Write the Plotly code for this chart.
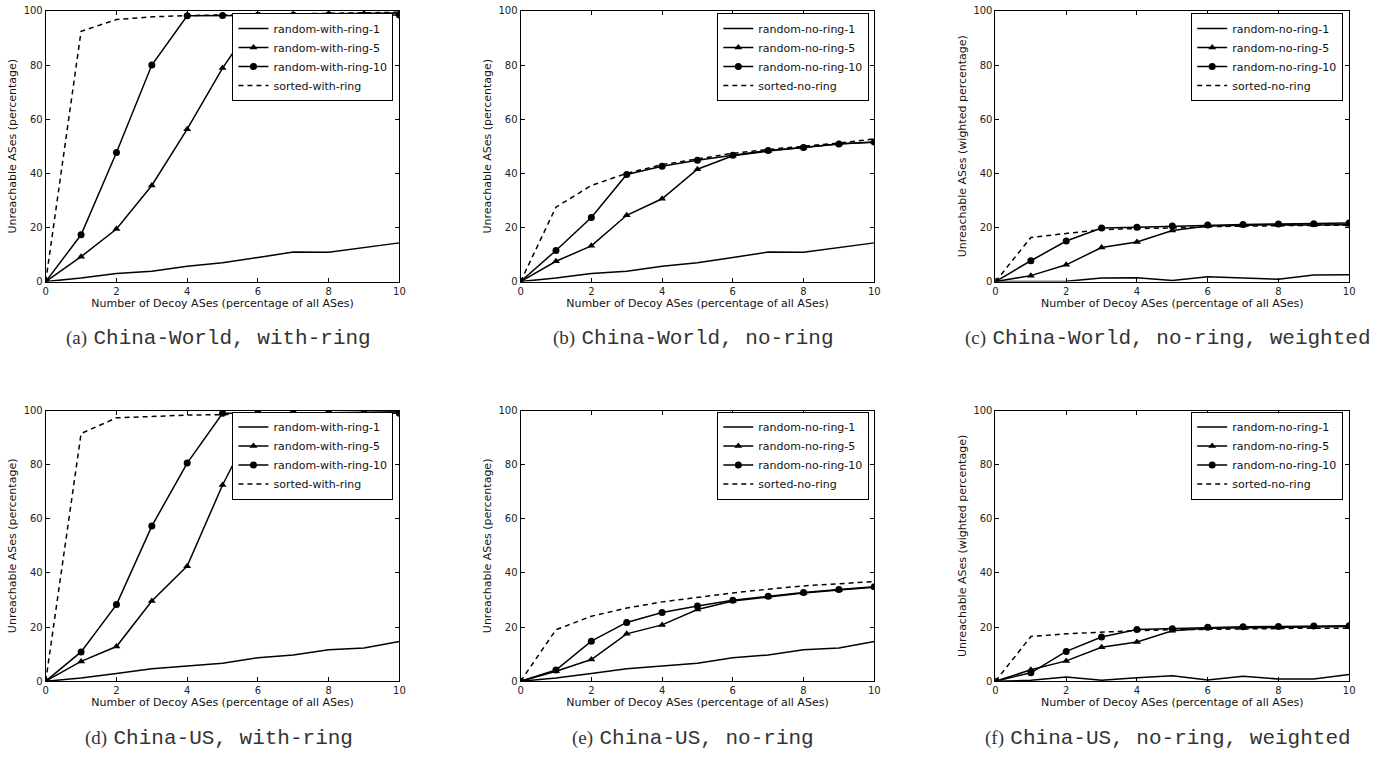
import plotly.graph_objects as go

x_vals = [0, 1, 2, 3, 4, 5, 6, 7, 8, 9, 10]

# (a) China-World, with-ring
a_r1 = [0, 1.3, 3.0, 3.8, 5.7, 7.0, 8.9, 10.9, 10.8, 12.6, 14.3]
a_r5 = [0, 9.2, 19.4, 35.5, 56.3, 78.9, 98.0, 98.8, 99.0, 99.0, 99.2]
a_r10 = [0, 17.3, 47.7, 80.0, 98.2, 98.3, 98.4, 98.4, 98.5, 98.5, 98.5]
a_sorted = [0, 92.5, 96.8, 97.8, 98.3, 98.5, 98.8, 99.0, 99.2, 99.3, 99.5]

# (b) China-World, no-ring
b_r1 = [0, 1.3, 3.0, 3.8, 5.7, 7.0, 8.9, 10.9, 10.8, 12.6, 14.3]
b_r5 = [0, 7.5, 13.2, 24.5, 30.6, 41.5, 46.5, 48.2, 49.5, 50.9, 51.5]
b_r10 = [0, 11.5, 23.7, 39.6, 42.6, 44.8, 46.7, 48.4, 49.5, 50.8, 51.6]
b_sorted = [0, 27.5, 35.5, 40.0, 43.2, 45.4, 47.4, 48.8, 50.0, 51.2, 52.7]

# (c) China-World, no-ring, weighted
c_r1 = [0, 0.1, 0.1, 1.3, 1.4, 0.4, 1.8, 1.3, 0.9, 2.4, 2.5]
c_r5 = [0, 2.2, 6.2, 12.6, 14.6, 18.9, 20.5, 20.7, 21.0, 20.9, 21.0]
c_r10 = [0, 7.7, 15.0, 19.8, 20.1, 20.5, 20.9, 21.1, 21.3, 21.4, 21.6]
c_sorted = [0, 16.3, 17.8, 19.2, 19.6, 19.8, 20.3, 20.5, 20.7, 20.8, 20.8]

# (d) China-US, with-ring
d_r1 = [0, 1.2, 2.8, 4.6, 5.6, 6.6, 8.7, 9.7, 11.6, 12.3, 14.7]
d_r5 = [0, 7.3, 12.8, 29.6, 42.5, 72.5, 98.0, 99.0, 99.2, 99.3, 99.5]
d_r10 = [0, 10.8, 28.3, 57.3, 80.6, 99.0, 99.0, 99.0, 99.0, 99.0, 99.0]
d_sorted = [0, 91.5, 97.3, 97.8, 98.3, 98.5, 98.7, 98.8, 98.9, 99.0, 99.0]

# (e) China-US, no-ring
e_r1 = [0, 1.2, 2.8, 4.6, 5.6, 6.6, 8.7, 9.7, 11.6, 12.3, 14.7]
e_r5 = [0, 3.7, 8.0, 17.5, 20.8, 26.5, 29.6, 31.2, 32.6, 33.7, 34.7]
e_r10 = [0, 4.1, 14.8, 21.7, 25.4, 27.8, 29.9, 31.4, 32.8, 33.9, 34.9]
e_sorted = [0, 19.0, 24.0, 27.0, 29.3, 31.0, 32.6, 34.0, 35.2, 36.0, 36.8]

# (f) China-US, no-ring, weighted
f_r1 = [0, 0.3, 1.5, 0.3, 1.3, 2.0, 0.4, 1.8, 0.8, 0.8, 2.5]
f_r5 = [0, 4.2, 7.5, 12.5, 14.5, 18.6, 19.6, 19.8, 20.0, 20.1, 20.2]
f_r10 = [0, 3.1, 11.0, 16.3, 19.1, 19.4, 19.9, 20.1, 20.2, 20.4, 20.5]
f_sorted = [0, 16.5, 17.5, 18.2, 18.7, 19.0, 19.2, 19.3, 19.5, 19.6, 19.6]

names_with = ["random-with-ring-1", "random-with-ring-5", "random-with-ring-10", "sorted-with-ring"]
names_no = ["random-no-ring-1", "random-no-ring-5", "random-no-ring-10", "sorted-no-ring"]

captions = [
    ("(a)", "China-World, with-ring"),
    ("(b)", "China-World, no-ring"),
    ("(c)", "China-World, no-ring, weighted"),
    ("(d)", "China-US, with-ring"),
    ("(e)", "China-US, no-ring"),
    ("(f)", "China-US, no-ring, weighted"),
]
ytitles = [
    "Unreachable ASes (percentage)",
    "Unreachable ASes (percentage)",
    "Unreachable ASes (wighted percentage)",
    "Unreachable ASes (percentage)",
    "Unreachable ASes (percentage)",
    "Unreachable ASes (wighted percentage)",
]
xtitle = "Number of Decoy ASes (percentage of all ASes)"
x_ticks = [0, 2, 4, 6, 8, 10]
y_ticks = [0, 20, 40, 60, 80, 100]

panels = [
    (names_with, [a_r1, a_r5, a_r10, a_sorted]),
    (names_no, [b_r1, b_r5, b_r10, b_sorted]),
    (names_no, [c_r1, c_r5, c_r10, c_sorted]),
    (names_with, [d_r1, d_r5, d_r10, d_sorted]),
    (names_no, [e_r1, e_r5, e_r10, e_sorted]),
    (names_no, [f_r1, f_r5, f_r10, f_sorted]),
]

W, H = 1380, 761
col_px = [(43, 399), (521, 877), (999, 1355)]
row_px = [(5, 280), (411, 686)]
legend_right_px = [393, 872, 1349]
legend_top_px = [7, 412]

FONT = "DejaVu Sans, Arial, sans-serif"
fig = go.Figure()

styles = [
    dict(mode="lines", line=dict(color="black", width=1.5)),
    dict(mode="lines+markers", line=dict(color="black", width=1.5),
         marker=dict(symbol="triangle-up", size=7, color="black")),
    dict(mode="lines+markers", line=dict(color="black", width=1.5),
         marker=dict(symbol="circle", size=7, color="black")),
    dict(mode="lines", line=dict(color="black", width=1.5, dash="5px,4px")),
]

layout = dict(
    width=W, height=H,
    margin=dict(l=0, r=0, t=0, b=0),
    paper_bgcolor="white", plot_bgcolor="white",
    showlegend=True,
    font=dict(family=FONT, color="#111", size=11),
)
annotations = []

for i, (names, series) in enumerate(panels):
    r, c = divmod(i, 3)
    idx = "" if i == 0 else str(i + 1)
    xa, ya = "x" + idx, "y" + idx
    leg = "legend" + idx
    for name, ys, st in zip(names, series, styles):
        fig.add_trace(go.Scatter(x=x_vals, y=ys, name=name, xaxis=xa, yaxis=ya,
                                 legend=leg, **st))
    x0, x1 = col_px[c]
    y0, y1 = row_px[r]
    axis_common = dict(showline=True, linecolor="black", linewidth=1, mirror="allticks",
                       ticks="inside", ticklen=4, tickcolor="black", showgrid=False,
                       zeroline=False, tickfont=dict(size=10, color="#222", family=FONT))
    layout["xaxis" + idx] = dict(domain=[x0 / W, x1 / W], anchor=ya, range=[0, 10],
                                 tickvals=x_ticks,
                                 title=dict(text=xtitle, font=dict(size=11, family=FONT), standoff=0),
                                 **axis_common)
    layout["yaxis" + idx] = dict(domain=[1 - y1 / H, 1 - y0 / H], anchor=xa, range=[0, 100],
                                 tickvals=y_ticks,
                                 title=dict(text=ytitles[i], font=dict(size=11, family=FONT), standoff=4),
                                 **axis_common)
    layout[leg] = dict(x=legend_right_px[c] / W, xanchor="right",
                       y=1 - legend_top_px[r] / H, yanchor="top",
                       bordercolor="black", borderwidth=1, bgcolor="white",
                       font=dict(size=11, family=FONT, color="#111"),
                       tracegroupgap=0, itemwidth=30)
    lab, txt = captions[i]
    cap_y = 337 if r == 0 else 743
    annotations.append(dict(
        x=(x0 + x1) / 2 / W - 4 / W, y=1 - cap_y / H, xref="paper", yref="paper",
        xanchor="center", yanchor="middle", showarrow=False,
        text=('<span style="font-family:\'Liberation Serif\', \'Times New Roman\', serif; font-size:19px">'
              + lab + '</span> <span style="font-family:\'Liberation Mono\', \'Courier New\', monospace; font-size:21px">'
              + txt + '</span>'),
        font=dict(size=20, color="#333"),
    ))

layout["annotations"] = annotations
fig.update_layout(**layout)
fig.write_html("out.html")
